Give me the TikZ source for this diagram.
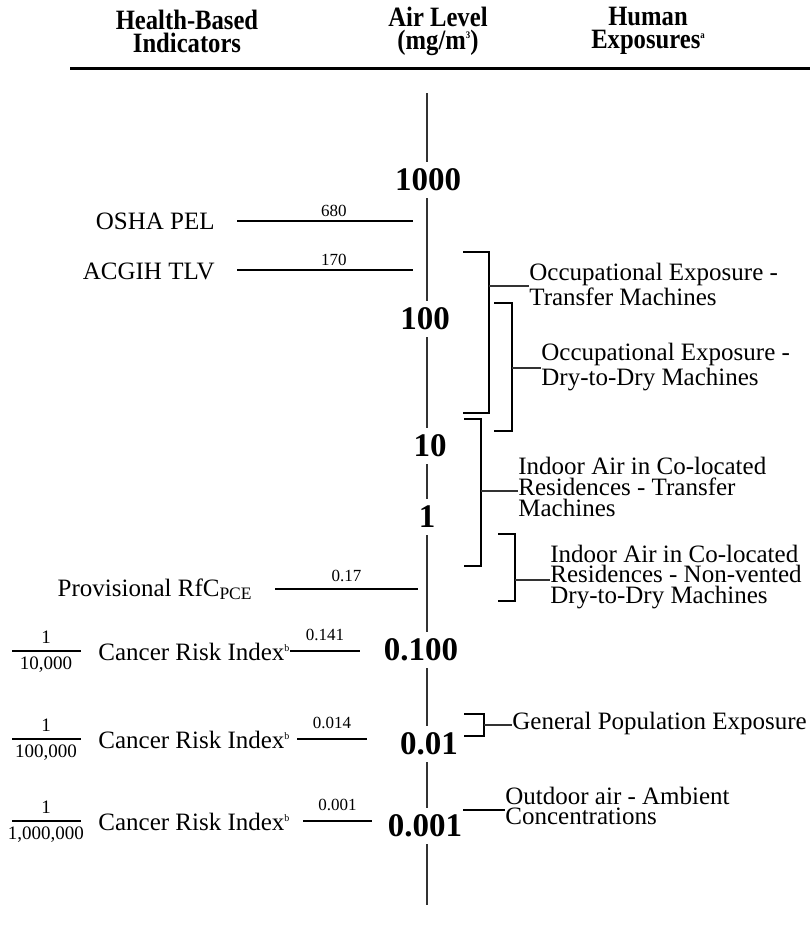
\documentclass[tikz,border=0pt]{standalone}
\usepackage{fontspec}
\setmainfont{Liberation Serif}
\newfontfamily\headfont{Liberation Serif}[FakeStretch=0.88]
\usetikzlibrary{positioning}
\newcommand\supsmall[1]{\raisebox{0.8ex}{\fontsize{5}{5}\selectfont #1}}
\tikzset{
  txt-head/.style={font=\headfont\bfseries\fontsize{14}{11.5}\selectfont,align=center},
  txt-body/.style={font=\fontsize{12.5}{10.3}\selectfont,align=left,inner sep=0pt},
  txt-val/.style={font=\fontsize{8.5}{9}\selectfont,inner sep=1.5pt},
  txt-frac/.style={font=\fontsize{9.5}{10}\selectfont,inner sep=0pt},
  txt-level/.style={font=\bfseries\fontsize{16.5}{18}\selectfont,fill=white,
    inner ysep=3.5pt,inner xsep=1pt},
  axis-line/.style={draw=black!80,line width=0.8pt},
  ind-line/.style={draw=black,line width=1pt},
  brk-line/.style={draw=black,line width=1pt},
  tick-line/.style={draw=black!80,line width=0.8pt},
}
\begin{document}
\begin{tikzpicture}[x=0.5pt,y=-0.5pt]
  \useasboundingbox (0,0) rectangle (810,926);
  % header
  \node[txt-head] (h-ind) at (187,31) {Health-Based\\Indicators};
  \node[txt-head] (h-air) at (438,31) {Air Level\\(mg/m\supsmall{3})};
  \node[txt-head] (h-exp) at (648,31) {Human\\Exposures\supsmall{a}};
  \coordinate (rule-l) at (70,68);
  \coordinate (rule-r) at (810,68);
  \draw[line width=1.5pt] (rule-l) -- (rule-r);

  % axis with the levels
  \coordinate (ax-top) at (427,93);
  \coordinate (ax-bot) at (427,905);
  \draw[axis-line] (ax-top) -- (ax-bot);
  \node[txt-level] (lv-1000) at (428,180) {1000};
  \node[txt-level] (lv-100)  at (425,319) {100};
  \node[txt-level] (lv-10)   at (430,446) {10};
  \node[txt-level] (lv-1)    at (427,517) {1};
  \node[txt-level] (lv-0100) at (421,650) {0.100};
  \node[txt-level] (lv-001)  at (429,744) {0.01};
  \node[txt-level] (lv-0001) at (425,826) {0.001};

  % health-based indicators
  \node[txt-body,anchor=east] (osha) at (215,221) {OSHA PEL};
  \coordinate (osha-a) at (237,221);
  \coordinate (osha-b) at (413,221);
  \draw[ind-line] (osha-a) -- (osha-b) node[txt-val,pos=0.55,above] {680};
  \node[txt-body,anchor=east] (acgih) at (215,271) {ACGIH TLV};
  \coordinate (acgih-a) at (237,270);
  \coordinate (acgih-b) at (413,270);
  \draw[ind-line] (acgih-a) -- (acgih-b) node[txt-val,pos=0.55,above] {170};
  \node[txt-body,anchor=base east] (rfc) at (253,596) {Provisional RfC\textsubscript{PCE}};
  \coordinate (rfc-a) at (275,589);
  \coordinate (rfc-b) at (418,589);
  \draw[ind-line] (rfc-a) -- (rfc-b) node[txt-val,midway,above=1.5pt] {0.17};
  \foreach \y/\den/\val/\xa/\xb [count=\i] in
      {651/{10,000}/0.141/290/360, 739/{100,000}/0.014/297/367,
       821/{1,000,000}/0.001/303/372}{
    \coordinate (bar-a\i) at (12,\y);
    \coordinate (bar-b\i) at (81,\y);
    \draw[ind-line,line width=0.8pt] (bar-a\i) -- (bar-b\i);
    \node[txt-frac] (num\i) at (46,\y-14) {1};
    \node[txt-frac] (den\i) at (46,\y+14) {\den};
    \node[txt-body,anchor=west] (cri\i) at (98,\y+1) {Cancer Risk Index\supsmall{b}};
    \coordinate (cri-a\i) at (\xa,\y);
    \coordinate (cri-b\i) at (\xb,\y);
    \draw[ind-line] (cri-a\i) -- (cri-b\i) node[txt-val,midway,above=3pt] {\val};
  }

  % human exposures
  \draw[brk-line] (463,252) -- (489,252) -- (489,413) -- (463,413);
  \coordinate (occ-t) at (489,286);
  \node[txt-body,anchor=west] (occ-tr) at (529,284) {Occupational Exposure -\\Transfer Machines};
  \draw[tick-line] (occ-t) -- (occ-tr.west |- occ-t);

  \draw[brk-line] (494,303) -- (512,303) -- (512,431) -- (494,431);
  \coordinate (occ-d) at (512,368);
  \node[txt-body,anchor=west] (occ-dd) at (541,367) {Occupational Exposure -\\Dry-to-Dry Machines};
  \draw[tick-line] (occ-d) -- (occ-dd.west |- occ-d);

  \draw[brk-line] (464,419) -- (481,419) -- (481,566) -- (464,566);
  \coordinate (ind-t) at (481,491);
  \node[txt-body,anchor=west] (ind-tr) at (518,487)
    {Indoor Air in Co-located\\Residences - Transfer\\Machines};
  \draw[tick-line] (ind-t) -- (ind-tr.west |- ind-t);

  \draw[brk-line] (498,534) -- (515,534) -- (515,601) -- (498,601);
  \coordinate (ind-d) at (515,580);
  \node[txt-body,anchor=west] (ind-dd) at (550,577)
    {Indoor Air in Co-located\\Residences - Non-vented\\Dry-to-Dry Machines};
  \draw[tick-line] (ind-d) -- (ind-dd.west |- ind-d);

  \draw[brk-line] (464,714) -- (484,714) -- (484,736) -- (464,736);
  \coordinate (gen-t) at (484,725);
  \node[txt-body,anchor=west] (gen) at (512,723) {General Population Exposure};
  \draw[tick-line] (gen-t) -- (gen.west |- gen-t);

  \coordinate (out-t) at (463,810);
  \node[txt-body,anchor=west] (out) at (505,806) {Outdoor air - Ambient\\Concentrations};
  \draw[brk-line] (out-t) -- (out.west |- out-t);
\end{tikzpicture}
\end{document}
